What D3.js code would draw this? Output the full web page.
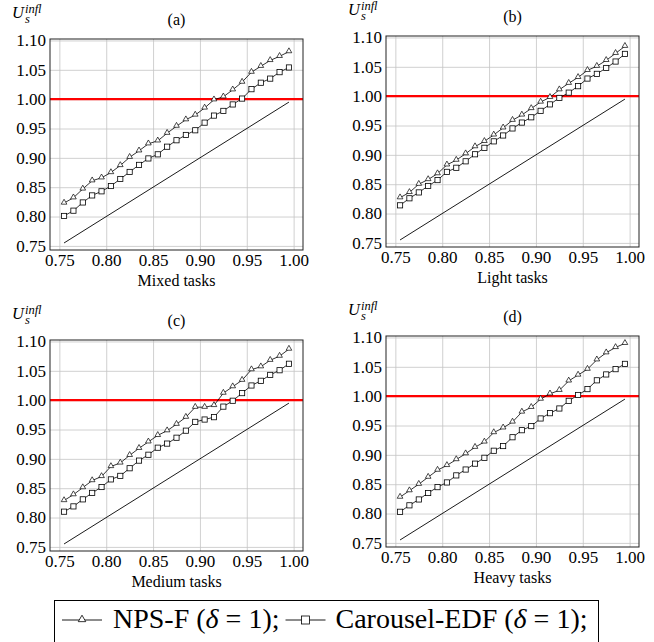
<!DOCTYPE html>
<meta charset="utf-8">

<!-- Load d3.js -->
<script src="https://d3js.org/d3.v7.min.js"></script>

<style>
  body { margin: 0; background: #fff; }
  svg text { font-family: "Liberation Serif", "Times New Roman", serif; fill: #000; }
</style>

<!-- Create a div where the graph will take place -->
<div id="my_dataviz"></div>

<script>

// x values (utilization) shared by every panel
var utilization = [0.755, 0.765, 0.775, 0.785, 0.795, 0.805, 0.815, 0.825, 0.835, 0.845,
                   0.855, 0.865, 0.875, 0.885, 0.895, 0.905, 0.915, 0.925, 0.935, 0.945,
                   0.955, 0.965, 0.975, 0.985, 0.995];

// NPS-F (delta = 1)
var npsMixed  = [0.823, 0.832, 0.847, 0.861, 0.866, 0.875, 0.887, 0.901, 0.912, 0.924,
                 0.929, 0.942, 0.954, 0.965, 0.973, 0.985, 0.999, 1.004, 1.016, 1.029,
                 1.046, 1.056, 1.066, 1.073, 1.081];
var npsLight  = [0.827, 0.836, 0.850, 0.858, 0.868, 0.883, 0.891, 0.902, 0.914, 0.923,
                 0.934, 0.946, 0.959, 0.968, 0.979, 0.990, 0.998, 1.011, 1.022, 1.032,
                 1.044, 1.051, 1.061, 1.073, 1.085];
var npsMedium = [0.829, 0.839, 0.851, 0.863, 0.870, 0.887, 0.893, 0.906, 0.918, 0.929,
                 0.940, 0.948, 0.959, 0.971, 0.988, 0.988, 0.991, 1.012, 1.023, 1.034,
                 1.052, 1.057, 1.068, 1.075, 1.087];
var npsHeavy  = [0.828, 0.839, 0.850, 0.862, 0.874, 0.882, 0.892, 0.902, 0.913, 0.922,
                 0.938, 0.946, 0.956, 0.973, 0.981, 0.995, 1.004, 1.010, 1.026, 1.036,
                 1.046, 1.062, 1.074, 1.083, 1.090];

// Carousel-EDF (delta = 1)
var carMixed  = [0.801, 0.810, 0.824, 0.836, 0.843, 0.852, 0.864, 0.876, 0.888, 0.899,
                 0.906, 0.919, 0.930, 0.939, 0.947, 0.960, 0.972, 0.980, 0.991, 1.001,
                 1.017, 1.028, 1.035, 1.046, 1.054];
var carLight  = [0.814, 0.826, 0.836, 0.847, 0.857, 0.871, 0.878, 0.889, 0.901, 0.912,
                 0.923, 0.933, 0.945, 0.955, 0.964, 0.975, 0.986, 0.997, 1.006, 1.017,
                 1.030, 1.038, 1.048, 1.059, 1.072];
var carMedium = [0.810, 0.819, 0.831, 0.842, 0.852, 0.865, 0.871, 0.884, 0.897, 0.907,
                 0.919, 0.926, 0.936, 0.948, 0.963, 0.967, 0.971, 0.989, 0.999, 1.012,
                 1.025, 1.033, 1.043, 1.051, 1.062];
var carHeavy  = [0.803, 0.814, 0.824, 0.835, 0.845, 0.853, 0.865, 0.875, 0.885, 0.895,
                 0.907, 0.915, 0.930, 0.942, 0.949, 0.962, 0.971, 0.979, 0.992, 1.002,
                 1.012, 1.027, 1.037, 1.046, 1.055];

// reference diagonal (y = x) and the 1.00 limit
var diagX = [0.755, 0.995];
var diagY = [0.755, 0.995];
var limitY = 1.00;

// tick labels
var xTicks = [0.75, 0.80, 0.85, 0.90, 0.95, 1.00];
var yTicks = [0.75, 0.80, 0.85, 0.90, 0.95, 1.00, 1.05, 1.10];

var panels = [
  {title: "(a)", xlabel: "Mixed tasks",  nps: npsMixed,  car: carMixed,  left: 50,  top: 39},
  {title: "(b)", xlabel: "Light tasks",  nps: npsLight,  car: carLight,  left: 386, top: 36},
  {title: "(c)", xlabel: "Medium tasks", nps: npsMedium, car: carMedium, left: 50,  top: 340},
  {title: "(d)", xlabel: "Heavy tasks",  nps: npsHeavy,  car: carHeavy,  left: 386, top: 336}
];

var width = 253, height = 211;
var serif = "'Liberation Serif', 'Times New Roman', serif";

var svg = d3.select("#my_dataviz")
  .append("svg")
    .attr("width", 654)
    .attr("height", 642);

var x = d3.scaleLinear().domain([0.74, 1.01]).range([0, width]);
var y = d3.scaleLinear().domain([0.743, 1.1025]).range([height, 0]);

var line = d3.line()
  .x(function(d) { return x(d[0]); })
  .y(function(d) { return y(d[1]); });

var triangle = d3.symbol().type(d3.symbolTriangle).size(14);

panels.forEach(function(p) {
  var g = svg.append("g")
    .attr("transform", "translate(" + p.left + "," + p.top + ")");

  // grid
  g.append("g")
    .attr("class", "grid")
    .attr("transform", "translate(0," + height + ")")
    .call(d3.axisBottom(x).tickValues(xTicks).tickSize(-height).tickFormat(""));
  g.append("g")
    .attr("class", "grid")
    .call(d3.axisLeft(y).tickValues(yTicks).tickSize(-width).tickFormat(""));
  g.selectAll(".grid .domain").remove();
  g.selectAll(".grid .tick text").remove();
  g.selectAll(".grid line").attr("stroke", "#c4c4c4").attr("stroke-width", 0.8);

  // tick labels
  var xa = g.append("g")
    .attr("transform", "translate(0," + height + ")")
    .call(d3.axisBottom(x).tickValues(xTicks).tickSize(0).tickPadding(4).tickFormat(d3.format(".2f")));
  var ya = g.append("g")
    .call(d3.axisLeft(y).tickValues(yTicks).tickSize(0).tickPadding(4).tickFormat(d3.format(".2f")));
  xa.select(".domain").remove();
  ya.select(".domain").remove();
  xa.attr("font-family", serif).attr("font-size", 17);
  ya.attr("font-family", serif).attr("font-size", 17);
  g.selectAll(".tick text")
    .style("font-family", serif)
    .style("font-size", "17px");

  // red limit line
  g.append("line")
    .attr("x1", 0).attr("x2", width)
    .attr("y1", y(limitY)).attr("y2", y(limitY))
    .attr("stroke", "#ff0000")
    .attr("stroke-width", 2.2);

  // diagonal
  g.append("path")
    .datum(d3.zip(diagX, diagY))
    .attr("d", line)
    .attr("fill", "none")
    .attr("stroke", "black")
    .attr("stroke-width", 0.9);

  // NPS-F
  var npsData = d3.zip(utilization, p.nps);
  g.append("path")
    .datum(npsData)
    .attr("d", line)
    .attr("fill", "none")
    .attr("stroke", "black")
    .attr("stroke-width", 0.8);
  g.selectAll(".tri")
    .data(npsData)
    .enter().append("path")
      .attr("d", triangle)
      .attr("transform", function(d) { return "translate(" + x(d[0]) + "," + (y(d[1]) - 0.5) + ")"; })
      .attr("fill", "white")
      .attr("stroke", "black")
      .attr("stroke-width", 0.7);

  // Carousel-EDF
  var carData = d3.zip(utilization, p.car);
  g.append("path")
    .datum(carData)
    .attr("d", line)
    .attr("fill", "none")
    .attr("stroke", "black")
    .attr("stroke-width", 0.8);
  g.selectAll(".sq")
    .data(carData)
    .enter().append("rect")
      .attr("x", function(d) { return x(d[0]) - 2.6; })
      .attr("y", function(d) { return y(d[1]) - 2.6; })
      .attr("width", 5.2)
      .attr("height", 5.2)
      .attr("fill", "white")
      .attr("stroke", "black")
      .attr("stroke-width", 0.8);

  // frame
  g.append("rect")
    .attr("width", width)
    .attr("height", height)
    .attr("fill", "none")
    .attr("stroke", "#222")
    .attr("stroke-width", 1);

  // panel title
  g.append("text")
    .attr("x", width / 2)
    .attr("y", -14)
    .attr("text-anchor", "middle")
    .attr("font-size", 16)
    .text(p.title);

  // x label
  g.append("text")
    .attr("x", width / 2)
    .attr("y", height + 36)
    .attr("text-anchor", "middle")
    .attr("font-size", 16)
    .text(p.xlabel);

  // y label U_s^{infl} as one text: U, subscript s, then superscript pulled back over it
  var yl = g.append("text")
    .attr("x", -38)
    .attr("y", -21)
    .attr("font-size", 16.5)
    .attr("font-style", "italic");
  yl.append("tspan").text("U");
  yl.append("tspan").attr("dx", 1).attr("dy", 5).attr("font-size", 12.5).text("s");
  yl.append("tspan").attr("dx", -4.9).attr("dy", -10).attr("font-size", 12.5).text("infl");
});

// legend
var legend = svg.append("g");
legend.append("rect")
  .attr("x", 54.5).attr("y", 600.5)
  .attr("width", 544).attr("height", 60)
  .attr("fill", "white")
  .attr("stroke", "black")
  .attr("stroke-width", 1);

var ly = 620, fs = 28;
var cx = 62;

function legendText(xpos, name) {
  var t = legend.append("text")
    .attr("x", xpos)
    .attr("y", ly + 8)
    .attr("font-size", fs);
  t.append("tspan").text(name + " (");
  t.append("tspan").attr("font-style", "italic").text("\u03b4");
  t.append("tspan").text(" = 1);");
  return t.node().getComputedTextLength();
}

// NPS-F entry
legend.append("line")
  .attr("x1", cx).attr("x2", cx + 40).attr("y1", ly).attr("y2", ly)
  .attr("stroke", "black").attr("stroke-width", 0.9);
legend.append("path")
  .attr("d", d3.symbol().type(d3.symbolTriangle).size(24))
  .attr("transform", "translate(" + (cx + 20) + "," + (ly - 0.5) + ")")
  .attr("fill", "white").attr("stroke", "black").attr("stroke-width", 0.8);
var w1 = legendText(cx + 51, "NPS-F");

// Carousel-EDF entry
var cx2 = cx + 51 + w1 + 6;
legend.append("line")
  .attr("x1", cx2).attr("x2", cx2 + 40).attr("y1", ly).attr("y2", ly)
  .attr("stroke", "black").attr("stroke-width", 0.9);
legend.append("rect")
  .attr("x", cx2 + 20 - 4).attr("y", ly - 4)
  .attr("width", 8).attr("height", 8)
  .attr("fill", "white").attr("stroke", "black").attr("stroke-width", 0.8);
legendText(cx2 + 50, "Carousel-EDF");

</script>
